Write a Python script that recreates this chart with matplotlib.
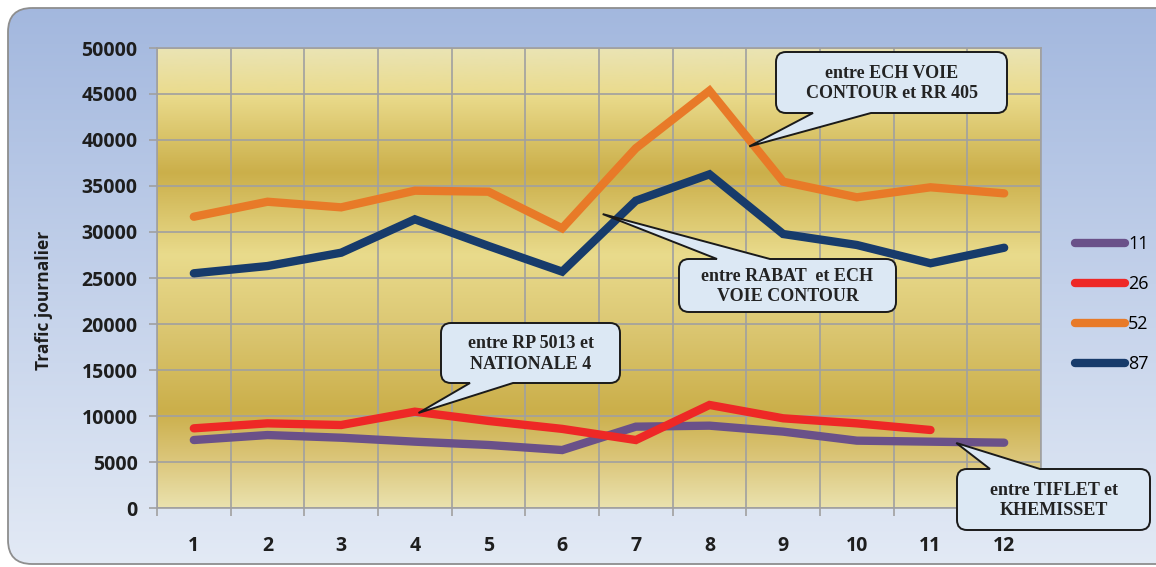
import numpy as np
import matplotlib.pyplot as plt
from matplotlib.colors import LinearSegmentedColormap
from matplotlib.patches import FancyBboxPatch, PathPatch
from matplotlib.path import Path

# Trafic journalier par poste de comptage
mois = list(range(1, 13))
trafic_11 = [7390, 7930, 7640, 7210, 6850, 6300, 8840, 8950, 8300, 7320, 7210, 7100]
trafic_26 = [8660, 9200, 9020, 10470, 9460, 8600, 7390, 11200, 9750, 9200, 8480, np.nan]
trafic_52 = [31660, 33290, 32680, 34490, 34380, 30400, 39100, 45360, 35470, 33770, 34860, 34200]
trafic_87 = [25510, 26300, 27750, 31380, 28480, 25690, 33400, 36270, 29780, 28590, 26600, 28290]
series = {"11": trafic_11, "26": trafic_26, "52": trafic_52, "87": trafic_87}
couleurs = {"11": "#6A5189", "26": "#EE2826", "52": "#E87A28", "87": "#173B6B"}

W, H = 1156, 567
fig = plt.figure(figsize=(W / 100, H / 100), dpi=100)

# fond bleu arrondi
bg = fig.add_axes([0, 0, 1, 1], zorder=-2)
bg.set_axis_off()
bg.set_xlim(0, W)
bg.set_ylim(H, 0)
bleu = LinearSegmentedColormap.from_list("bleu", ["#A2B7DE", "#C3D1EA", "#E3EAF5"])
panneau = FancyBboxPatch((8, 8), 1175, 556, boxstyle="round,pad=0,rounding_size=24",
                         facecolor="none", edgecolor="#8E8E8E", lw=1.3)
im = bg.imshow(np.linspace(0, 1, 256).reshape(-1, 1), cmap=bleu, aspect="auto",
               extent=[0, W, H, 0], origin="upper")
bg.add_patch(panneau)
im.set_clip_path(panneau)

# zone de tracé dorée
ax = fig.add_axes([157 / W, (H - 508) / H, (1041 - 157) / W, (508 - 48) / H])
ax.patch.set_visible(False)
or_cmap = LinearSegmentedColormap.from_list("or", [
    (0.00, "#EAE2AE"), (0.10, "#DCC77C"), (0.21, "#CBAF4A"), (0.40, "#DCC874"),
    (0.55, "#E9DB8C"), (0.73, "#CBAF4A"), (0.90, "#EADB8C"), (1.00, "#EAE4B4")])
ax.imshow(np.linspace(0, 1, 256).reshape(-1, 1), cmap=or_cmap, aspect="auto",
          extent=[0.5, 12.5, 0, 50000], origin="lower", zorder=0)

for nom, vals in series.items():
    ax.plot(mois, vals, color=couleurs[nom], lw=6, solid_capstyle="round",
            solid_joinstyle="miter", label=nom, zorder=3)

ax.set_xlim(0.5, 12.5)
ax.set_ylim(0, 50000)
ax.set_xticks(mois)
ax.set_xticks(np.arange(0.5, 13, 1), minor=True)
ax.set_yticks(range(0, 50001, 5000))
gris = "#A0A0A0"
ax.grid(True, which="minor", axis="x", color=gris, lw=1.2)
ax.grid(True, which="major", axis="y", color=gris, lw=1.2)
ax.tick_params(axis="x", which="major", length=0, pad=20)
ax.tick_params(axis="x", which="minor", length=6, width=1.2, color=gris)
ax.tick_params(axis="y", length=6, width=1.2, color=gris, pad=8)
for s in ax.spines.values():
    s.set_color(gris)
    s.set_linewidth(1.2)
for lab in ax.get_xticklabels() + ax.get_yticklabels():
    lab.set_fontfamily("Open Sans")
    lab.set_fontweight("bold")
    lab.set_fontsize(14)
    lab.set_color("#1E1E1E")

ax.set_ylabel("Trafic journalier", fontfamily="Open Sans", fontweight="bold",
              fontsize=12.5, color="#1E1E1E")
ax.yaxis.set_label_coords((53 - 157) / 884, 0.452)

ax.legend(loc="center left", bbox_to_anchor=(1075 / W, 1 - 304 / H),
          bbox_transform=fig.transFigure, frameon=False, borderpad=0,
          borderaxespad=0, handlelength=2.75, handletextpad=0.2,
          labelspacing=1.22, prop={"family": "Open Sans", "size": 13})

# bulles d'annotation
over = fig.add_axes([0, 0, 1, 1], zorder=5)
over.set_axis_off()
over.set_xlim(0, W)
over.set_ylim(H, 0)


def bulle(x0, y0, x1, y1, b1, b2, cote, pointe, texte, r=10):
    tx, ty = over.transData.inverted().transform(ax.transData.transform(pointe))
    v = [(x0 + r, y0)]
    c = [Path.MOVETO]
    if cote == "haut":
        v += [(b1, y0), (tx, ty), (b2, y0)]
        c += [Path.LINETO] * 3
    v += [(x1 - r, y0), (x1, y0), (x1, y0 + r), (x1, y1 - r), (x1, y1), (x1 - r, y1)]
    c += [Path.LINETO, Path.CURVE3, Path.CURVE3, Path.LINETO, Path.CURVE3, Path.CURVE3]
    if cote == "bas":
        v += [(b2, y1), (tx, ty), (b1, y1)]
        c += [Path.LINETO] * 3
    v += [(x0 + r, y1), (x0, y1), (x0, y1 - r), (x0, y0 + r), (x0, y0), (x0 + r, y0), (x0 + r, y0)]
    c += [Path.LINETO, Path.CURVE3, Path.CURVE3, Path.LINETO, Path.CURVE3, Path.CURVE3, Path.CLOSEPOLY]
    over.add_patch(PathPatch(Path(v, c), facecolor="#DCE8F4", edgecolor="#1A1A1A", lw=1.4))
    over.text((x0 + x1) / 2, (y0 + y1) / 2 + 1, texte, ha="center", va="center",
              fontfamily="Liberation Serif", fontweight="bold", fontsize=13,
              linespacing=1.25, color="#232323")


bulle(776, 52, 1007, 113, 813, 871, "bas", (8.54, 39300),
      "entre ECH VOIE\nCONTOUR et RR 405")
bulle(679, 259, 896, 312, 717, 770, "haut", (6.55, 31950),
      "entre RABAT  et ECH\nVOIE CONTOUR")
bulle(441, 323, 620, 383, 470, 513, "bas", (4.05, 10330),
      "entre RP 5013 et\nNATIONALE 4")
bulle(957, 469, 1150, 530, 990, 1040, "haut", (11.35, 7070),
      "entre TIFLET et\nKHEMISSET")

fig.savefig("out.png", dpi=100, facecolor="white")
